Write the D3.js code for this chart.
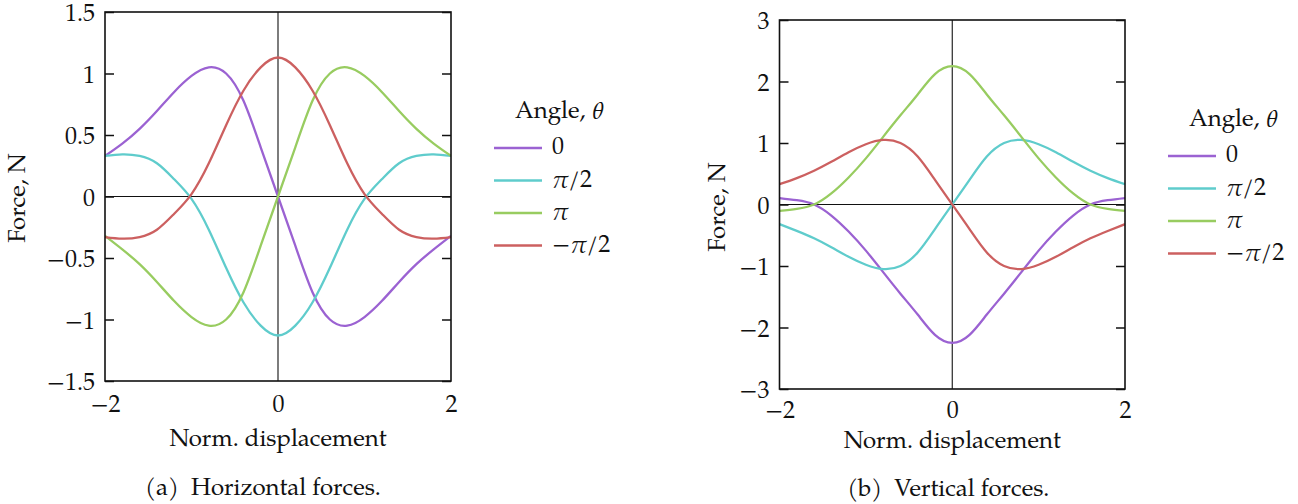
<!DOCTYPE html>
<html>
<head>
<meta charset="utf-8">
<script src="https://cdn.jsdelivr.net/npm/d3@7"></script>
<style>
  html, body { margin: 0; padding: 0; background: #ffffff; }
  svg { display: block; }
</style>
</head>
<body>
<svg id="chart" width="1298" height="504"></svg>
<script>
// Normalised displacement samples shared by every curve
const displacement = [-2, -1.8, -1.6, -1.4, -1.2, -1, -0.8, -0.6, -0.4, -0.2, 0,
                      0.2, 0.4, 0.6, 0.8, 1, 1.2, 1.4, 1.6, 1.8, 2];

// (a) Horizontal force, N, for each magnet angle
const horizontalAngle0     = [0.33, 0.43, 0.55, 0.695, 0.85, 0.98, 1.05, 1.0, 0.78, 0.40, 0,
                              -0.40, -0.78, -1.0, -1.05, -0.98, -0.85, -0.695, -0.55, -0.43, -0.32];
const horizontalAngleHalfPi = [0.33, 0.343, 0.33, 0.27, 0.14, -0.02, -0.27, -0.58, -0.86, -1.05, -1.13,
                              -1.05, -0.86, -0.58, -0.27, -0.02, 0.14, 0.27, 0.33, 0.343, 0.33];
const horizontalAnglePi    = [-0.32, -0.43, -0.55, -0.695, -0.85, -0.98, -1.05, -1.0, -0.78, -0.40, 0,
                              0.40, 0.78, 1.0, 1.05, 0.98, 0.85, 0.695, 0.55, 0.43, 0.33];
const horizontalAngleMinusHalfPi = [-0.33, -0.343, -0.33, -0.27, -0.14, 0.02, 0.27, 0.58, 0.86, 1.05, 1.13,
                              1.05, 0.86, 0.58, 0.27, 0.02, -0.14, -0.27, -0.33, -0.343, -0.33];

// (b) Vertical force, N, for each magnet angle
const verticalAngle0       = [0.105, 0.07, 0, -0.18, -0.44, -0.75, -1.1, -1.45, -1.79, -2.12, -2.25,
                              -2.12, -1.79, -1.45, -1.1, -0.75, -0.44, -0.18, 0, 0.07, 0.105];
const verticalAngleHalfPi  = [-0.32, -0.43, -0.55, -0.695, -0.85, -0.98, -1.05, -1.0, -0.78, -0.40, 0,
                              0.40, 0.78, 1.0, 1.05, 0.98, 0.85, 0.695, 0.55, 0.43, 0.33];
const verticalAnglePi      = [-0.105, -0.07, 0, 0.18, 0.44, 0.75, 1.1, 1.45, 1.79, 2.12, 2.25,
                              2.12, 1.79, 1.45, 1.1, 0.75, 0.44, 0.18, 0, -0.07, -0.105];
const verticalAngleMinusHalfPi = [0.33, 0.43, 0.55, 0.695, 0.85, 0.98, 1.05, 1.0, 0.78, 0.40, 0,
                              -0.40, -0.78, -1.0, -1.05, -0.98, -0.85, -0.695, -0.55, -0.43, -0.32];

// Axis ticks and labels
const xTicks = [-2, 0, 2];
const xTickLabels = ["\u22122", "0", "2"];
const horizontalTicks = [-1.5, -1, -0.5, 0, 0.5, 1, 1.5];
const horizontalTickLabels = ["\u22121.5", "\u22121", "\u22120.5", "0", "0.5", "1", "1.5"];
const verticalTicks = [-3, -2, -1, 0, 1, 2, 3];
const verticalTickLabels = ["\u22123", "\u22122", "\u22121", "0", "1", "2", "3"];

// Legend entries (angle θ)
const angleNames = ["0", "\u03c0/2", "\u03c0", "\u2212\u03c0/2"];
const angleColors = ["#9b62d2", "#5fcccc", "#98cc60", "#cc6060"];

const svg = d3.select("#chart");
const FONT_FAMILY = '"TeX Gyre Pagella", "URW Palladio L", "Liberation Serif", serif';
const FONT = 24;
const INK = "#111";

function styleText(sel) {
  return sel.style("font-family", FONT_FAMILY).style("font-size", FONT + "px").style("fill", INK);
}

function richLabel(sel, str) {
  // π and θ set in italic, as math symbols
  const parts = str.split(/([\u03c0\u03b8])/).filter(s => s.length);
  parts.forEach(p => {
    const t = sel.append("tspan").text(p);
    if (p === "\u03c0" || p === "\u03b8") t.style("font-style", "italic");
  });
}

function drawPanel(cfg) {
  const x = d3.scaleLinear().domain([-2, 2]).range([cfg.left, cfg.right]);
  const y = d3.scaleLinear().domain(cfg.yDomain).range([cfg.bottom, cfg.top]);
  const g = svg.append("g");

  const clipId = "clip-" + cfg.id;
  svg.append("clipPath").attr("id", clipId)
    .append("rect")
    .attr("x", cfg.left).attr("y", cfg.top)
    .attr("width", cfg.right - cfg.left).attr("height", cfg.bottom - cfg.top);

  // zero lines
  g.append("line")
    .attr("x1", cfg.left).attr("x2", cfg.right)
    .attr("y1", y(0)).attr("y2", y(0))
    .attr("stroke", INK).attr("stroke-width", 1.1);
  g.append("line")
    .attr("x1", x(0)).attr("x2", x(0))
    .attr("y1", cfg.top).attr("y2", cfg.bottom)
    .attr("stroke", INK).attr("stroke-width", 1.1);

  // left axis: inward ticks with labels
  const leftAxis = d3.axisLeft(y)
    .tickValues(cfg.yTicks)
    .tickSize(-9)
    .tickPadding(10)
    .tickFormat((d, i) => cfg.yTickLabels[i]);
  const la = g.append("g").attr("transform", `translate(${cfg.left},0)`).call(leftAxis);
  la.select(".domain").remove();
  la.selectAll(".tick line").attr("stroke", INK).attr("stroke-width", 1.5);
  styleText(la.selectAll(".tick text")).attr("dy", "0.36em");

  // right axis: inward ticks only
  const rightAxis = d3.axisRight(y).tickValues(cfg.yTicks).tickSize(-9).tickFormat("");
  const ra = g.append("g").attr("transform", `translate(${cfg.right},0)`).call(rightAxis);
  ra.select(".domain").remove();
  ra.selectAll(".tick line").attr("stroke", INK).attr("stroke-width", 1.5);

  // bottom axis labels
  const bottomAxis = d3.axisBottom(x)
    .tickValues(xTicks).tickSize(0).tickPadding(cfg.xTickPad)
    .tickFormat((d, i) => xTickLabels[i]);
  const ba = g.append("g").attr("transform", `translate(0,${cfg.bottom})`).call(bottomAxis);
  ba.select(".domain").remove();
  styleText(ba.selectAll(".tick text"));

  // force curves
  const line = d3.line()
    .x((d, i) => x(displacement[i]))
    .y(d => y(d))
    .curve(d3.curveNatural);
  const curves = g.append("g").attr("clip-path", `url(#${clipId})`);
  cfg.series.forEach((s, k) => {
    curves.append("path")
      .attr("d", line(s))
      .attr("fill", "none")
      .attr("stroke", angleColors[k])
      .attr("stroke-width", 2.3)
      .attr("stroke-linejoin", "round");
  });

  // frame
  g.append("rect")
    .attr("x", cfg.left).attr("y", cfg.top)
    .attr("width", cfg.right - cfg.left).attr("height", cfg.bottom - cfg.top)
    .attr("fill", "none").attr("stroke", INK).attr("stroke-width", 1.6);

  // axis titles and caption
  styleText(g.append("text"))
    .attr("transform", `translate(${cfg.yTitleX},${cfg.yTitleY}) rotate(-90)`)
    .attr("text-anchor", "middle").attr("dominant-baseline", "central")
    .text("Force, N");
  styleText(g.append("text"))
    .attr("x", (cfg.left + cfg.right) / 2).attr("y", cfg.xTitleY)
    .attr("text-anchor", "middle")
    .text("Norm. displacement");
  styleText(g.append("text"))
    .attr("x", (cfg.left + cfg.right) / 2 + cfg.captionShift).attr("y", cfg.captionY)
    .attr("text-anchor", "middle")
    .style("white-space", "pre")
    .text(cfg.caption);

  // legend
  const lg = g.append("g");
  const title = styleText(lg.append("text"))
    .attr("x", cfg.legendX + 21).attr("y", cfg.legendY - 35)
    .attr("dominant-baseline", "central");
  richLabel(title, "Angle, \u03b8");
  angleNames.forEach((name, k) => {
    const yy = cfg.legendY + k * 32.5;
    lg.append("line")
      .attr("x1", cfg.legendX).attr("x2", cfg.legendX + 48)
      .attr("y1", yy).attr("y2", yy)
      .attr("stroke", angleColors[k]).attr("stroke-width", 2.3);
    const t = styleText(lg.append("text"))
      .attr("x", cfg.legendX + 58).attr("y", yy + 1)
      .attr("dominant-baseline", "central");
    richLabel(t, name);
  });
}

drawPanel({
  id: "h", left: 105, right: 451, top: 12, bottom: 381,
  yDomain: [-1.5, 1.5], yTicks: horizontalTicks, yTickLabels: horizontalTickLabels,
  series: [horizontalAngle0, horizontalAngleHalfPi, horizontalAnglePi, horizontalAngleMinusHalfPi],
  xTickPad: 14,
  yTitleX: 20, yTitleY: 198, xTitleY: 446, captionY: 495, captionShift: -15,
  caption: "(a)  Horizontal forces.",
  legendX: 494, legendY: 148
});

drawPanel({
  id: "v", left: 779.5, right: 1125, top: 20, bottom: 389,
  yDomain: [-3, 3], yTicks: verticalTicks, yTickLabels: verticalTickLabels,
  series: [verticalAngle0, verticalAngleHalfPi, verticalAnglePi, verticalAngleMinusHalfPi],
  xTickPad: 12,
  yTitleX: 720, yTitleY: 207, xTitleY: 448, captionY: 496, captionShift: -4,
  caption: "(b)  Vertical forces.",
  legendX: 1168, legendY: 156
});
</script>
</body>
</html>
